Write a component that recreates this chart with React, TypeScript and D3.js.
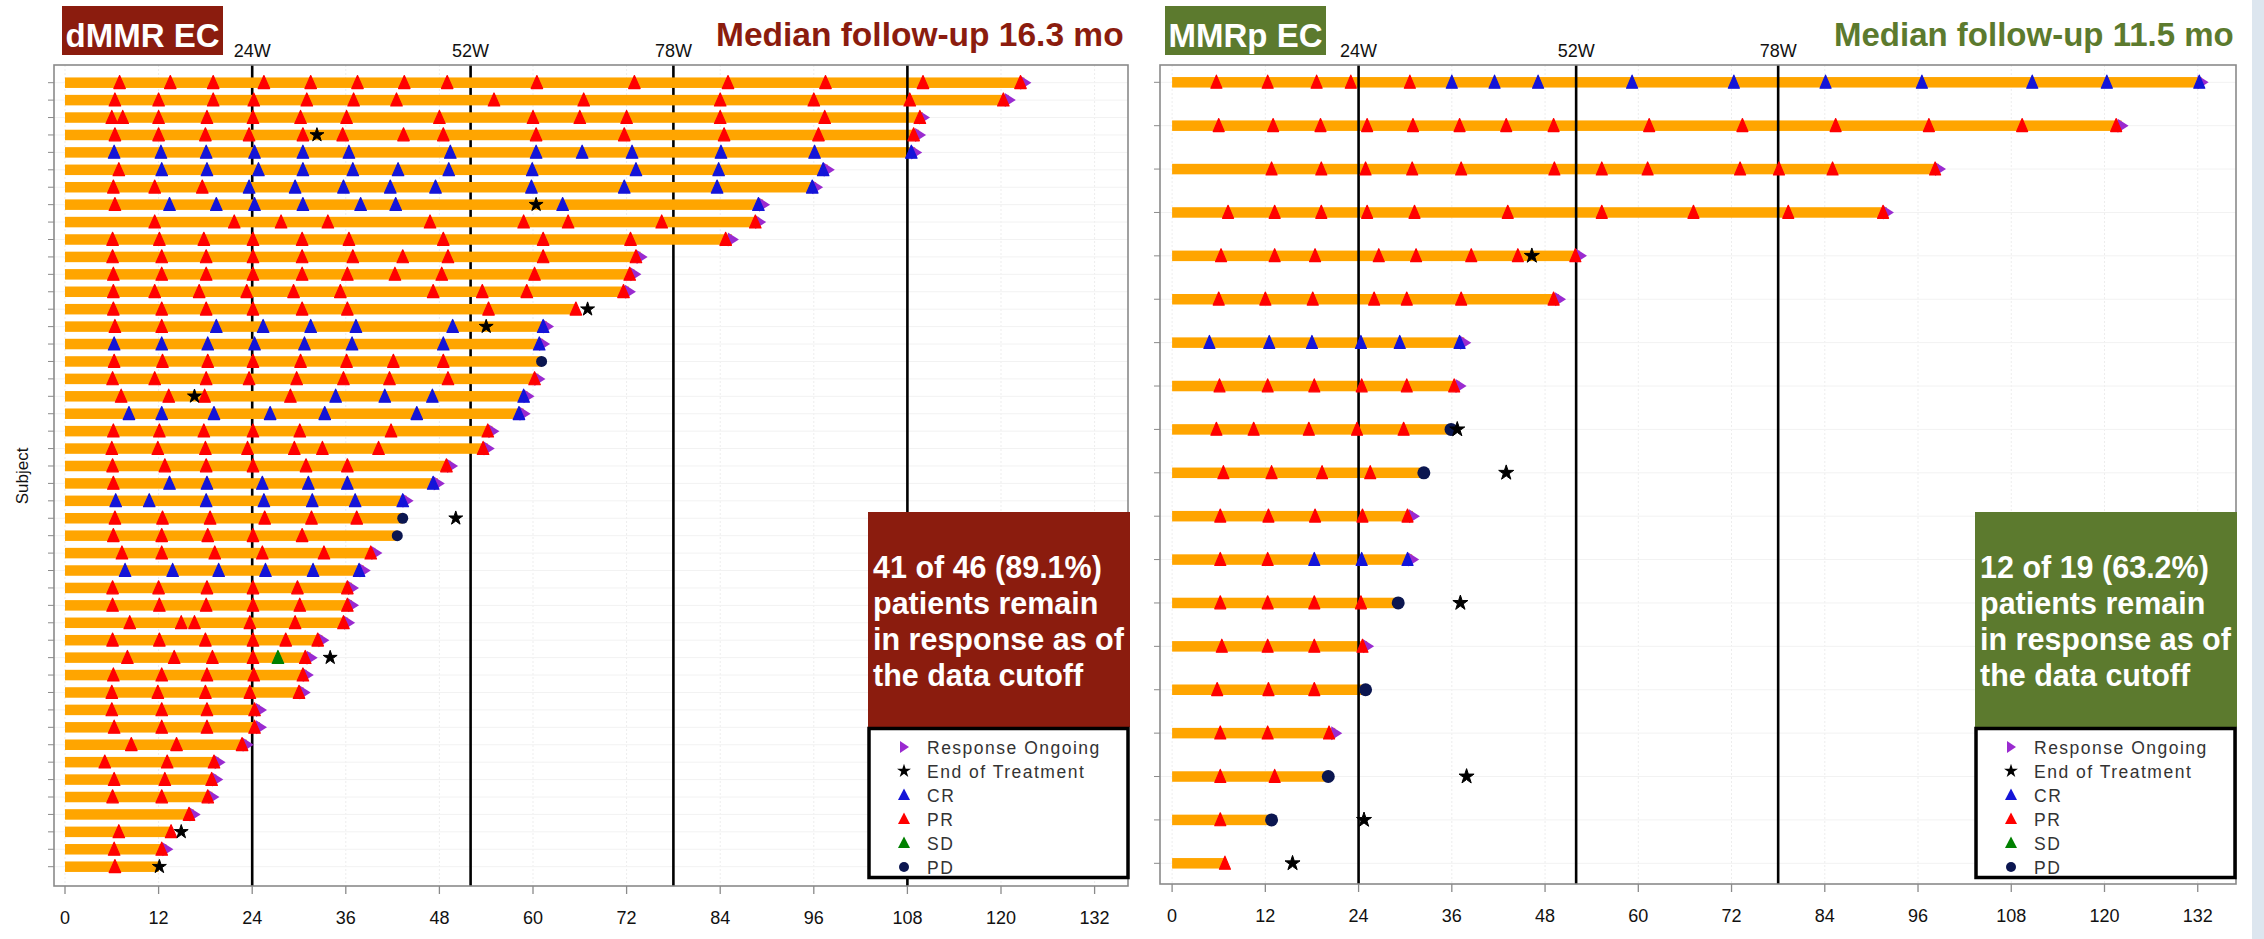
import React from "react";
import * as d3 from "d3";

// ---------- shared axis data ----------
const xTickValues = [0, 12, 24, 36, 48, 60, 72, 84, 96, 108, 120, 132];
const weekLineValues = [24, 52, 78];
const weekLineLabels = ["24W", "52W", "78W"];
const dmmrExtraLines = [108];
const legendLabels = ["Response Ongoing", "End of Treatment", "CR", "PR", "SD", "PD"];

// ---------- dMMR EC (left panel) ----------
const dmmrTitle = "dMMR EC";
const dmmrFollowUp = "Median follow-up 16.3 mo";
const dmmrBoxLines = ["41 of 46 (89.1%)", "patients remain", "in response as of", "the data cutoff"];

const dmmrEnd = [
  123, 121, 110, 109.5, 109, 97.8, 96.3, 89.5, 89, 85.5,
  73.8, 73, 72.3, 65.5, 61.8, 61.3, 61.1, 60.7, 59.3, 58.8,
  54.8, 54.2, 49.5, 47.8, 43.8, 43.3, 42.6, 39.8, 38.3, 36.8,
  36.8, 36.3, 33, 31.5, 31, 30.6, 25, 25, 23.3, 19.7,
  19.4, 18.9, 16.5, 13.6, 13, 12,
];
const dmmrOngoing = [
  1, 1, 1, 1, 1, 1, 1, 1, 1, 1,
  1, 1, 1, 0, 1, 1, 0, 1, 1, 1,
  1, 1, 1, 1, 1, 0, 0, 1, 1, 1,
  1, 1, 1, 1, 1, 1, 1, 1, 1, 1,
  1, 1, 1, 0, 1, 0,
];
const dmmrPR: number[][] = [
  [7, 13.5, 19, 25.5, 31.5, 37.5, 43.5, 49, 60.5, 73, 85, 97.5, 110, 122.5],
  [6.4, 12, 19, 24.2, 31, 37, 42.5, 55, 66.5, 84, 96, 108.3, 120.3],
  [6, 7.4, 12, 18.2, 24.1, 30.2, 36.1, 48, 60, 66, 72, 84, 97.4, 109.6],
  [6.4, 12, 18, 23.6, 30.5, 35.6, 43.4, 48.5, 60.4, 71.7, 84.5, 96.6, 108.8],
  [],
  [6.9],
  [6.2, 11.5, 17.6],
  [6.4],
  [11.5, 21.7, 27.7, 33.7, 46.8, 58.8, 64.5, 76.5, 88.5],
  [6.1, 12.1, 17.8, 24.1, 30.4, 36.4, 48.5, 61.3, 72.5, 84.7],
  [6.1, 12.4, 18.1, 24.1, 30.4, 36.9, 43.3, 49.1, 61.3, 73.2],
  [6.2, 12.4, 18.1, 24.1, 30.4, 36.2, 42.3, 48.3, 60.2, 72.4],
  [6.2, 11.5, 17.2, 23.3, 29.3, 35.3, 47.2, 53.5, 59.2, 71.6],
  [6.2, 12.4, 18.1, 24.1, 30.4, 36.2, 54.3, 65.5],
  [6.4, 12.4],
  [],
  [6.3, 12.5, 18.3, 24.1, 30.2, 36.1, 42.1, 48.5],
  [6.1, 11.5, 18.1, 23.6, 29.7, 35.7, 41.6, 49.1, 60.2],
  [7.2, 13.3, 17.9, 28.9],
  [],
  [6.2, 12.1, 17.8, 24.1, 30.1, 41.8, 54.2],
  [6, 11.9, 18, 23.4, 29.4, 33, 40.2, 53.6],
  [6.1, 12.8, 18.1, 24.1, 30.9, 36.2, 48.9],
  [6.2],
  [],
  [6.4, 12.5, 18.6, 25.6, 31.6, 37.4],
  [6.2, 12.4, 18.3, 24.1, 30.4],
  [7.3, 12.4, 19.2, 25.3, 33.2, 39.2],
  [],
  [6.1, 12, 18.2, 24.1, 29.8, 36.2],
  [6.1, 12.1, 18.1, 24.1, 30.1, 36.2],
  [8.3, 14.9, 16.6, 23.7, 29.5, 35.7],
  [6.1, 12.1, 18, 24.1, 28.3, 32.4],
  [8, 14, 18.9, 24.1, 30.8],
  [6.2, 12.4, 18.2, 24.2, 30.5],
  [6, 11.9, 18, 23.7, 30],
  [6, 12.4, 18.2, 24.3],
  [6.3, 12.4, 18.2, 24.3],
  [8.5, 14.3, 22.7],
  [5.1, 13.1, 19.1],
  [6.3, 12.8, 18.8],
  [6.1, 12.4, 18.3],
  [15.9],
  [6.9, 13.6],
  [6.3, 12.4],
  [6.4],
];
const dmmrCR: number[][] = [
  [], [], [], [],
  [6.3, 12.3, 18.1, 24.3, 30.5, 36.4, 49.4, 60.4, 66.3, 72.7, 84.1, 96.1, 108.5],
  [12.4, 18.2, 24.8, 30.5, 36.9, 42.7, 49.2, 59.9, 73.2, 83.8, 97.2],
  [23.6, 29.5, 35.7, 41.7, 47.5, 59.8, 71.7, 83.6, 95.8],
  [13.4, 19.4, 24.3, 30.5, 37.9, 42.4, 63.8, 88.9],
  [], [], [], [], [], [],
  [19.4, 25.4, 31.5, 37.3, 49.7, 61.3],
  [6.3, 12.4, 18.3, 24.3, 30.7, 36.8, 48.5, 60.8],
  [], [],
  [34.7, 41, 47.1, 58.8],
  [8.2, 12.4, 19.1, 26.3, 33.3, 45.1, 58.2],
  [], [], [],
  [13.4, 18.2, 25.3, 31.2, 36.2, 47.2],
  [6.5, 10.8, 18.1, 25.5, 31.7, 37.2, 43.3],
  [], [], [],
  [7.7, 13.8, 19.7, 25.7, 31.8, 37.7],
  [], [], [], [], [], [], [], [], [], [], [], [], [], [], [], [], [],
];
// [row (1-based), month]
const dmmrSD: number[][] = [[34, 27.3]];
const dmmrPD: number[][] = [[17, 61.1], [26, 43.3], [27, 42.6]];
const dmmrEOT: number[][] = [
  [4, 32.3], [8, 60.4], [14, 67], [15, 54], [19, 16.6], [26, 50.1], [34, 34], [44, 14.9], [46, 12.1],
];

// ---------- MMRp EC (right panel) ----------
const mmrpTitle = "MMRp EC";
const mmrpFollowUp = "Median follow-up 11.5 mo";
const mmrpBoxLines = ["12 of 19 (63.2%)", "patients remain", "in response as of", "the data cutoff"];

const mmrpEnd = [132.5, 122.2, 98.7, 92, 52.5, 49.8, 37.6, 37, 35.9, 32.4, 31, 30.9, 29.1, 25.1, 24.9, 21, 20.1, 12.8, 6.8];
const mmrpOngoing = [1, 1, 1, 1, 1, 1, 1, 1, 0, 0, 1, 1, 0, 1, 0, 1, 0, 0, 0];
const mmrpPR: number[][] = [
  [5.7, 12.3, 18.6, 23, 30.6],
  [6, 13, 19.1, 25.1, 31, 37, 43, 49.1, 61.4, 73.4, 85.4, 97.4, 109.4, 121.5],
  [12.8, 19.2, 24.9, 30.9, 37.2, 49.2, 55.3, 61.2, 73.1, 78.1, 85, 98.2],
  [7.2, 13.2, 19.2, 25.1, 31.2, 43.2, 55.3, 67.1, 79.3, 91.5],
  [6.3, 13.2, 18.4, 26.6, 31.4, 38.5, 44.5, 51.9],
  [6, 12, 18.1, 26, 30.2, 37.2, 49.1],
  [],
  [6.1, 12.3, 18.3, 24.4, 30.2, 36.3],
  [5.7, 10.5, 17.6, 23.8, 29.8],
  [6.6, 12.8, 19.3, 25.5],
  [6.2, 12.4, 18.4, 24.5, 30.3],
  [6.2, 12.3],
  [6.2, 12.3, 18.3, 24.3],
  [6.4, 12.3, 18.3, 24.5],
  [5.8, 12.4, 18.3],
  [6.2, 12.3, 20.2],
  [6.2, 13.2],
  [6.2],
  [6.8],
];
const mmrpCR: number[][] = [
  [36, 41.5, 47.1, 59.2, 72.3, 84.1, 96.5, 110.7, 120.3, 132.2],
  [], [], [], [], [],
  [4.8, 12.5, 18, 24.3, 29.3, 37],
  [], [], [], [],
  [18.3, 24.4, 30.3],
  [], [], [], [], [], [], [],
];
const mmrpSD: number[][] = [];
const mmrpPD: number[][] = [[9, 35.9], [10, 32.4], [13, 29.1], [15, 24.9], [17, 20.1], [18, 12.8]];
const mmrpEOT: number[][] = [[5, 46.3], [9, 36.7], [10, 43], [13, 37.1], [17, 37.9], [18, 24.7], [19, 15.5]];

// ---------- style ----------
const FONT = "'Liberation Sans', Arial, Helvetica, sans-serif";
const NARROW = "'Liberation Sans Narrow', 'Arial Narrow', 'Liberation Sans', Arial, sans-serif";
const ORANGE = "#ffa500";
const RED = "#ff0000";
const BLUE = "#1414d8";
const GREEN = "#008000";
const NAVY = "#0b1650";
const PURPLE = "#9a2ad0";
const DMMR_COLOR = "#8b1c0e";
const MMRP_COLOR = "#5c7a2e";

type PanelProps = {
  xr: [number, number];
  yr: [number, number];
  frame: { x0: number; x1: number; y0: number; y1: number };
  end: number[];
  ongoing: number[];
  pr: number[][];
  cr: number[][];
  sd: number[][];
  pd: number[][];
  eot: number[][];
  linesUnder: number[];
  linesOver: number[];
  labeledLines: number[];
  barH: number;
  tri: [number, number];
  starSize: number;
  pdR: number;
};

function Panel(p: PanelProps) {
  const x = d3.scaleLinear().domain([0, 132]).range(p.xr);
  const rows = d3.range(p.end.length);
  const y = d3.scalePoint<number>().domain(rows).range(p.yr);
  const fr = p.frame;
  const [tw, th] = p.tri;
  const triPath = (cx: number, cy: number) =>
    `M${cx},${cy - th * 0.55}L${cx + tw / 2},${cy + th * 0.45}L${cx - tw / 2},${cy + th * 0.45}Z`;
  const starPath = d3.symbol().type(d3.symbolStar).size(p.starSize)() as string;
  const vline = (v: number, k: string) => (
    <line key={k} x1={x(v)} x2={x(v)} y1={fr.y0} y2={fr.y1} stroke="#000" strokeWidth={2.6} />
  );
  return (
    <g>
      {/* faint grid */}
      {xTickValues.map((v) => (
        <line key={"gv" + v} x1={x(v)} x2={x(v)} y1={fr.y0} y2={fr.y1} stroke="#ededed" strokeWidth={1} strokeDasharray="2,2" />
      ))}
      {rows.map((i) => (
        <line key={"gh" + i} x1={fr.x0} x2={fr.x1} y1={y(i)!} y2={y(i)!} stroke="#f2f2f2" strokeWidth={1} />
      ))}
      {p.linesUnder.map((v) => vline(v, "lu" + v))}
      {/* bars */}
      {rows.map((i) => (
        <rect key={"b" + i} x={x(0)} y={y(i)! - p.barH / 2} width={x(p.end[i]) - x(0)} height={p.barH} fill={ORANGE} />
      ))}
      {p.linesOver.map((v) => vline(v, "lo" + v))}
      {/* response ongoing */}
      {rows.filter((i) => p.ongoing[i]).map((i) => {
        const xe = x(p.end[i]);
        const cy = y(i)!;
        return <path key={"o" + i} d={`M${xe - 4},${cy - 7}L${xe + 7},${cy}L${xe - 4},${cy + 7}Z`} fill={PURPLE} />;
      })}
      {/* PR / CR triangles */}
      {rows.map((i) =>
        p.pr[i].map((v, j) => <path key={"pr" + i + "_" + j} d={triPath(x(v), y(i)!)} fill={RED} stroke={RED} strokeWidth={1.2} strokeLinejoin="round" />)
      )}
      {rows.map((i) =>
        p.cr[i].map((v, j) => <path key={"cr" + i + "_" + j} d={triPath(x(v), y(i)!)} fill={BLUE} stroke={BLUE} strokeWidth={1.2} strokeLinejoin="round" />)
      )}
      {p.sd.map(([r, v], j) => (
        <path key={"sd" + j} d={triPath(x(v), y(r - 1)!)} fill={GREEN} stroke={GREEN} strokeWidth={1.2} strokeLinejoin="round" />
      ))}
      {p.pd.map(([r, v], j) => (
        <circle key={"pd" + j} cx={x(v)} cy={y(r - 1)!} r={p.pdR} fill={NAVY} />
      ))}
      {p.eot.map(([r, v], j) => (
        <path key={"e" + j} d={starPath} transform={`translate(${x(v)},${y(r - 1)!})`} fill="#000" stroke="#000" strokeWidth={1} strokeLinejoin="round" />
      ))}
      {/* frame */}
      <rect x={fr.x0} y={fr.y0} width={fr.x1 - fr.x0} height={fr.y1 - fr.y0} fill="none" stroke="#8a8a8a" strokeWidth={1.6} />
      {/* y ticks */}
      {rows.map((i) => (
        <line key={"yt" + i} x1={fr.x0 - 6} x2={fr.x0} y1={y(i)!} y2={y(i)!} stroke="#8a8a8a" strokeWidth={1} />
      ))}
      {/* x ticks */}
      {xTickValues.map((v) => (
        <g key={"xt" + v}>
          <line x1={x(v)} x2={x(v)} y1={fr.y1} y2={fr.y1 + 8} stroke="#8a8a8a" strokeWidth={1.3} />
          <text x={x(v)} y={fr.y1 + 38} textAnchor="middle" fontFamily={NARROW} fontSize={18} fill="#111">
            {v}
          </text>
        </g>
      ))}
      {/* week labels */}
      {p.labeledLines.map((v, k) => (
        <text key={"wl" + v} x={x(v)} y={fr.y0 - 8} textAnchor="middle" fontFamily={NARROW} fontSize={18} fill="#111">
          {weekLineLabels[k]}
        </text>
      ))}
    </g>
  );
}

function Header(props: { boxX: number; boxW: number; title: string; titleSize: number; color: string; fx: number; fSize: number; follow: string }) {
  return (
    <g>
      <rect x={props.boxX} y={6} width={props.boxW} height={49} fill={props.color} />
      <text x={props.boxX + props.boxW / 2} y={47} textAnchor="middle" fontFamily={FONT} fontWeight="bold" fontSize={props.titleSize} fill="#fff">
        {props.title}
      </text>
      <text x={props.fx} y={46} fontFamily={FONT} fontWeight="bold" fontSize={props.fSize} fill={props.color}>
        {props.follow}
      </text>
    </g>
  );
}

function InfoBox(props: { x0: number; x1: number; color: string; lines: string[] }) {
  const { x0, x1 } = props;
  const legendY = d3.scalePoint<number>().domain(d3.range(legendLabels.length)).range([747, 867]);
  const mx = x0 + 36;
  const tx = x0 + 59;
  const star = d3.symbol().type(d3.symbolStar).size(60)() as string;
  const tri = (cx: number, cy: number) => `M${cx},${cy - 6.5}L${cx + 6},${cy + 5}L${cx - 6},${cy + 5}Z`;
  const markers = [
    (cy: number) => <path d={`M${mx - 4},${cy - 6}L${mx + 5},${cy}L${mx - 4},${cy + 6}Z`} fill={PURPLE} />,
    (cy: number) => <path d={star} transform={`translate(${mx},${cy})`} fill="#000" />,
    (cy: number) => <path d={tri(mx, cy)} fill={BLUE} />,
    (cy: number) => <path d={tri(mx, cy)} fill={RED} />,
    (cy: number) => <path d={tri(mx, cy)} fill={GREEN} />,
    (cy: number) => <circle cx={mx} cy={cy} r={5} fill={NAVY} />,
  ];
  return (
    <g>
      <rect x={x0} y={512} width={x1 - x0} height={215} fill={props.color} />
      {props.lines.map((t, i) => (
        <text key={t} x={x0 + 5} y={578 + i * 36} fontFamily={FONT} fontWeight="bold" fontSize={30.5} fill="#fff">
          {t}
        </text>
      ))}
      <rect x={x0 + 1} y={728.5} width={x1 - x0 - 3} height={149} fill="#fff" stroke="#000" strokeWidth={3.5} />
      {legendLabels.map((l, i) => (
        <g key={l}>
          {markers[i](legendY(i)!)}
          <text x={tx} y={legendY(i)! + 6.5} fontFamily={FONT} fontSize={17.5} letterSpacing={1.5} fill="#333">
            {l}
          </text>
        </g>
      ))}
    </g>
  );
}

export default function App() {
  return (
    <svg width={2264} height={939} viewBox="0 0 2264 939" style={{ position: "absolute", left: 0, top: 0, display: "block", background: "#fff" }}>
      <rect x={0} y={0} width={2264} height={939} fill="#fff" />
      <rect x={2252} y={0} width={12} height={939} fill="#dde6ef" />
      <Header boxX={62} boxW={161} title={dmmrTitle} titleSize={33} color={DMMR_COLOR} fx={716} fSize={33.5} follow={dmmrFollowUp} />
      <Header boxX={1165} boxW={161} title={mmrpTitle} titleSize={33} color={MMRP_COLOR} fx={1834} fSize={33} follow={mmrpFollowUp} />
      <text transform="translate(28,476) rotate(-90)" textAnchor="middle" fontFamily={FONT} fontSize={17} fill="#111">
        Subject
      </text>
      <Panel
        xr={[65, 65 + 132 * 7.8]}
        yr={[82.7, 866.7]}
        frame={{ x0: 54, x1: 1128, y0: 65, y1: 886 }}
        end={dmmrEnd}
        ongoing={dmmrOngoing}
        pr={dmmrPR}
        cr={dmmrCR}
        sd={dmmrSD}
        pd={dmmrPD}
        eot={dmmrEOT}
        linesUnder={weekLineValues}
        linesOver={dmmrExtraLines}
        labeledLines={weekLineValues}
        barH={10.5}
        tri={[11.5, 13]}
        starSize={60}
        pdR={5.5}
      />
      <Panel
        xr={[1172.1, 1172.1 + 132 * 7.77]}
        yr={[82.3, 863.3]}
        frame={{ x0: 1160, x1: 2236, y0: 65, y1: 884 }}
        end={mmrpEnd}
        ongoing={mmrpOngoing}
        pr={mmrpPR}
        cr={mmrpCR}
        sd={mmrpSD}
        pd={mmrpPD}
        eot={mmrpEOT}
        linesUnder={[]}
        linesOver={weekLineValues}
        labeledLines={weekLineValues}
        barH={10.5}
        tri={[11, 13]}
        starSize={70}
        pdR={6.5}
      />
      <InfoBox x0={868} x1={1130} color={DMMR_COLOR} lines={dmmrBoxLines} />
      <InfoBox x0={1975} x1={2237} color={MMRP_COLOR} lines={mmrpBoxLines} />
    </svg>
  );
}
